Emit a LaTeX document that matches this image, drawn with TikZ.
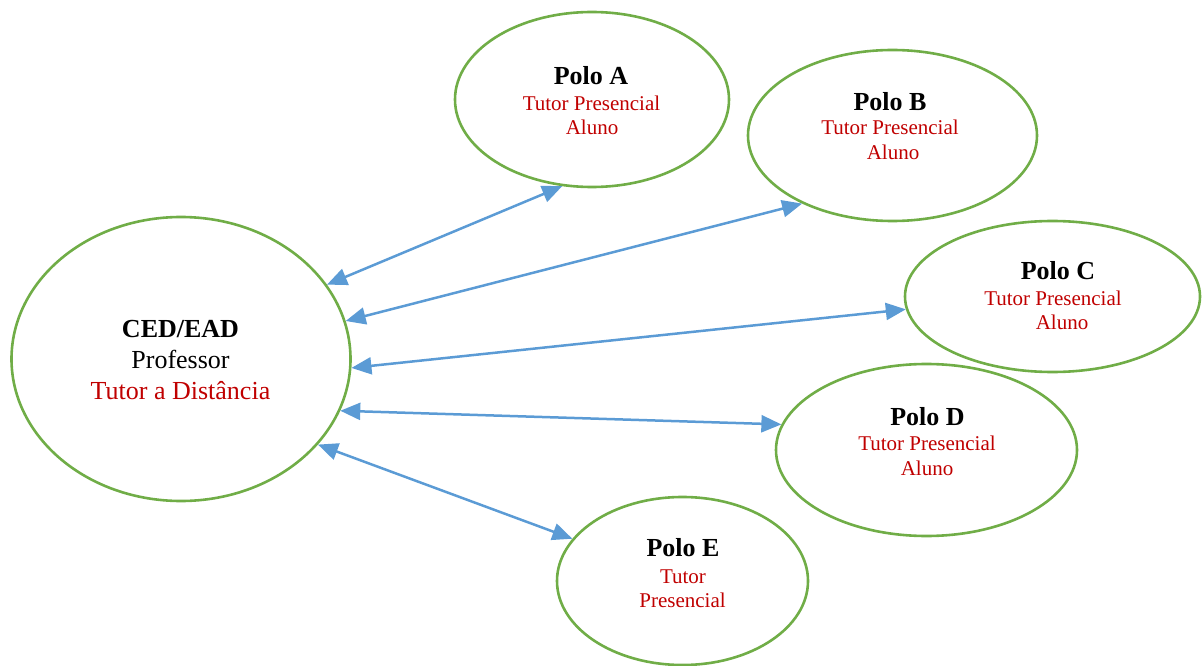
\documentclass[tikz,border=0pt]{standalone}
\usepackage{fontspec}
\setmainfont{Liberation Serif}
\usetikzlibrary{arrows.meta,shapes.geometric}

\definecolor{polegreen}{HTML}{70AD47}
\definecolor{linkblue}{HTML}{5B9BD5}
\definecolor{rolered}{HTML}{C00000}

\tikzset{
  pole/.style={ellipse, draw=polegreen, line width=2.6pt, inner sep=0pt},
  title/.style={anchor=base, inner sep=0pt, font=\fontsize{26}{30}\selectfont\bfseries},
  role/.style={anchor=base, inner sep=0pt, text=rolered, font=\fontsize{21}{25}\selectfont},
  link/.style={draw=linkblue, line width=2.5pt,
    {Triangle[length=20pt,width=17pt]}-{Triangle[length=20pt,width=17pt]}},
}

\begin{document}
\begin{tikzpicture}[x=1pt,y=-1pt]
\useasboundingbox (0,0) rectangle (1203,666);

% central unit
\node[pole, minimum width=339pt, minimum height=284pt] (ced) at (181,359) {};
\node[title] (cedT) at (180.5,337.5) {CED/EAD};
\node[anchor=base, inner sep=0pt, font=\fontsize{26}{30}\selectfont] (cedP) at (180.5,368) {Professor};
\node[anchor=base, inner sep=0pt, text=rolered, font=\fontsize{26}{30}\selectfont] (cedD) at (180.5,399) {Tutor a Distância};

% poles
\node[pole, minimum width=274pt, minimum height=175pt] (pa) at (592,99.5) {};
\node[title] (paT) at (591,85) {Polo A};
\node[role] (paR) at (591.5,111) {Tutor Presencial};
\node[role] (paS) at (592,135) {Aluno};

\node[pole, minimum width=289pt, minimum height=171pt] (pb) at (892.5,135.5) {};
\node[title] (pbT) at (890,110.5) {Polo B};
\node[role] (pbR) at (890,135) {Tutor Presencial};
\node[role] (pbS) at (893,160) {Aluno};

\node[pole, minimum width=295pt, minimum height=151pt] (pc) at (1052.5,296.5) {};
\node[title] (pcT) at (1058,279.5) {Polo C};
\node[role] (pcR) at (1053,305) {Tutor Presencial};
\node[role] (pcS) at (1062,329.5) {Aluno};

\node[pole, minimum width=301pt, minimum height=172pt] (pd) at (926.5,450) {};
\node[title] (pdT) at (927.5,425.5) {Polo D};
\node[role] (pdR) at (927,450.5) {Tutor Presencial};
\node[role] (pdS) at (927,475.5) {Aluno};

\node[pole, minimum width=251pt, minimum height=168pt] (pe) at (682.5,581) {};
\node[title] (peT) at (683,556.5) {Polo E};
\node[role] (peR) at (683,583) {Tutor};
\node[role] (peS) at (682.5,607.5) {Presencial};

% two-way links between the centre and each pole
\draw[link] (ced.27) -- (pa.251.6);
\draw[link] (ced.13) -- (pb.217.5);
\draw[link] (ced.-3.7) -- (pc.185.1);
\draw[link] (ced.-18.2) -- (pd.170);
\draw[link] (ced.-32) -- (pe.159.8);
\end{tikzpicture}
\end{document}
